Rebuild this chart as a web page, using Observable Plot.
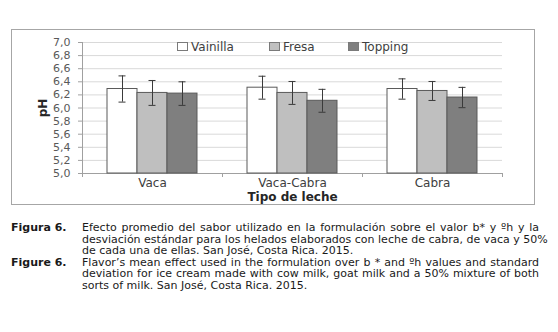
<!DOCTYPE html>
<html>
<head>
<meta charset="utf-8">
<script src="https://cdn.jsdelivr.net/npm/d3@7"></script>
<script src="https://cdn.jsdelivr.net/npm/@observablehq/plot@0.6"></script>
<style>
  html, body { margin: 0; padding: 0; background: #fff; }
  body { width: 558px; height: 332px; position: relative; overflow: hidden; font-family: "DejaVu Sans", Verdana, sans-serif; }
  #chart { position: absolute; left: 0; top: 0; }
  #border { position: absolute; left: 11px; top: 29px; width: 522px; height: 174px; border: 1px solid #a6a6a6; pointer-events: none; }
  #legend { position: absolute; top: 40px; left: 0; font-size: 12px; color: #404040; height: 14px; }
  .li { position: absolute; top: 0; white-space: nowrap; line-height: 14px; }
  .sw { display: inline-block; width: 9px; height: 7px; border: 1px solid #7a7a7a; margin-right: 3px; vertical-align: 0px; }
  #caption { position: absolute; left: 0; top: 222px; width: 558px; font-size: 11px; color: #1a1a1a; }
  .row { position: absolute; left: 0; width: 558px; height: 12px; line-height: 12px; }
  .lab { position: absolute; left: 11px; font-weight: bold; }
  .txt { position: absolute; left: 82px; width: 457px; text-align: justify; text-align-last: justify; white-space: nowrap; }
  .txt.last { text-align-last: left; }
</style>
</head>
<body>
<div id="chart"></div>
<div id="border"></div>
<div id="legend"></div>
<div id="caption"></div>
<script>
// ---- data ----
const categories = ["Vaca", "Vaca-Cabra", "Cabra"];
const flavors = ["Vainilla", "Fresa", "Topping"];
const meanVainilla = [6.29, 6.31, 6.29];
const meanFresa = [6.23, 6.23, 6.26];
const meanTopping = [6.22, 6.11, 6.16];
const sdVainilla = [0.20, 0.175, 0.155];
const sdFresa = [0.19, 0.175, 0.145];
const sdTopping = [0.18, 0.175, 0.155];
const yTicks = [5.0, 5.2, 5.4, 5.6, 5.8, 6.0, 6.2, 6.4, 6.6, 6.8, 7.0];
const colors = ["#ffffff", "#bfbfbf", "#7f7f7f"];
const captionLines = [
  ["Figura 6.", "Efecto promedio del sabor utilizado en la formulación sobre el valor b* y ºh y la"],
  ["", "desviación estándar para los helados elaborados con leche de cabra, de vaca y 50%"],
  ["", "de cada una de ellas. San José, Costa Rica. 2015."],
  ["Figure 6.", "Flavor’s mean effect used in the formulation over b * and ºh values and standard"],
  ["", "deviation for ice cream made with cow milk, goat milk and a 50% mixture of both"],
  ["", "sorts of milk. San José, Costa Rica. 2015."]
];

const means = [meanVainilla, meanFresa, meanTopping];
const sds = [sdVainilla, sdFresa, sdTopping];
const data = [];
categories.forEach((c, i) => flavors.forEach((f, j) => {
  data.push({cat: c, flavor: f, mean: means[j][i], lo: means[j][i] - sds[j][i], hi: means[j][i] + sds[j][i]});
}));

const fmt = d => d.toFixed(1).replace(".", ",");

const plot = Plot.plot({
  width: 558,
  height: 215,
  marginLeft: 82,
  marginRight: 56,
  marginTop: 42,
  marginBottom: 42,
  style: {fontFamily: "DejaVu Sans, Verdana, sans-serif", fontSize: "11px", color: "#595959", background: "transparent"},
  fx: {domain: categories, paddingInner: 0, paddingOuter: 0},
  x: {domain: flavors, paddingInner: 0, paddingOuter: 0.76, axis: null},
  y: {domain: [5, 7]},
  color: {domain: flavors, range: colors},
  marks: [
    Plot.gridY(yTicks, {stroke: "#d9d9d9", strokeOpacity: 1}),
    Plot.ruleY([5], {stroke: "#a0a0a0"}),
    Plot.axisY({ticks: yTicks, tickFormat: fmt, tickSize: 4, tickPadding: 8, stroke: "#a0a0a0",
      label: "pH", labelArrow: false, labelAnchor: "center", labelOffset: 44, fill: "#595959"}),
    Plot.axisFx({anchor: "bottom", tickSize: 0, tickPadding: 5, fontSize: 12, fill: "#404040",
      label: "Tipo de leche", labelArrow: false, labelAnchor: "center", labelOffset: 27}),
    Plot.barY(data, {fx: "cat", x: "flavor", y1: 5, y2: "mean", fill: "flavor", stroke: "#5a5a5a", strokeWidth: 1}),
    Plot.ruleX(data, {fx: "cat", x: "flavor", y1: "lo", y2: "hi", stroke: "#3a3a3a", strokeWidth: 1}),
    Plot.tickY(data, {fx: "cat", x: "flavor", y: "lo", insetLeft: 11.5, insetRight: 11.5, stroke: "#3a3a3a"}),
    Plot.tickY(data, {fx: "cat", x: "flavor", y: "hi", insetLeft: 11.5, insetRight: 11.5, stroke: "#3a3a3a"})
  ]
});
document.getElementById("chart").appendChild(plot);

// style axis labels & add axis line / category separators from the library's scales
const svg = d3.select(plot);
svg.selectAll("text").each(function () {
  const el = d3.select(this);
  const t = el.text();
  if (/^pH/.test(t) || /Tipo de leche/.test(t)) {
    el.text(/^pH/.test(t) ? "pH" : "Tipo de leche");
    el.attr("font-weight", "bold").attr("fill", "#262626").attr("font-size", 12);
  }
});
const ys = plot.scale("y"), fxs = plot.scale("fx");
const y0 = ys.apply(5), y1 = ys.apply(7);
const left = fxs.apply(categories[0]);
const bw = fxs.bandwidth;
const g = svg.append("g").attr("stroke", "#a0a0a0");
g.append("line").attr("x1", left + 0.5).attr("x2", left + 0.5).attr("y1", y1).attr("y2", y0 + 4);
categories.forEach((c, i) => {
  const xr = fxs.apply(c) + bw;
  g.append("line").attr("x1", xr + 0.5).attr("x2", xr + 0.5).attr("y1", y0).attr("y2", y0 + 4);
});

// legend
const leg = d3.select("#legend");
const legX = [177, 269, 348];
flavors.forEach((f, j) => {
  const it = leg.append("div").attr("class", "li").style("left", legX[j] + "px");
  it.append("span").attr("class", "sw").style("background", colors[j]);
  it.append("span").text(f);
});

// caption
const cap = d3.select("#caption");
captionLines.forEach((l, i) => {
  const row = cap.append("div").attr("class", "row").style("top", (i * 11.6) + "px");
  if (l[0]) row.append("div").attr("class", "lab").text(l[0]);
  const last = (i === 2 || i === 5);
  row.append("div").attr("class", "txt" + (last ? " last" : "")).text(l[1]);
});
</script>
</body>
</html>
